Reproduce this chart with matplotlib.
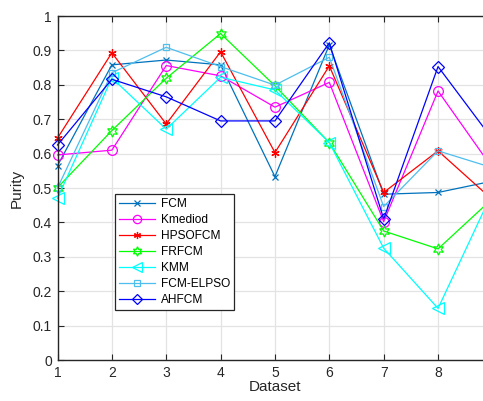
import matplotlib
matplotlib.use("Agg")
import matplotlib.pyplot as plt
import numpy as np

plt.rcParams['font.family'] = ['Liberation Sans', 'DejaVu Sans']

datasets = [1, 2, 3, 4, 5, 6, 7, 8, 9]
fcm      = [0.565, 0.858, 0.872, 0.858, 0.533, 0.916, 0.482, 0.487, 0.520]
kmediod  = [0.596, 0.610, 0.856, 0.826, 0.735, 0.807, 0.402, 0.782, 0.558]
hpsofcm  = [0.645, 0.893, 0.686, 0.896, 0.603, 0.855, 0.487, 0.608, 0.466]
frfcm    = [0.501, 0.667, 0.819, 0.949, 0.797, 0.632, 0.375, 0.323, 0.469]
kmm      = [0.470, 0.820, 0.671, 0.822, 0.785, 0.632, 0.325, 0.150, 0.487]
fcm_elpso = [0.500, 0.835, 0.909, 0.853, 0.799, 0.880, 0.446, 0.608, 0.559]
ahfcm    = [0.625, 0.816, 0.765, 0.695, 0.695, 0.922, 0.410, 0.853, 0.642]
x_tick_labels = ["1", "2", "3", "4", "5", "6", "7", "8", ""]
y_tick_labels = ["0", "0.1", "0.2", "0.3", "0.4", "0.5", "0.6", "0.7", "0.8", "0.9", "1"]

series = [
    ("FCM", fcm, "#0072BD", "x", 5),
    ("Kmediod", kmediod, "#FF00FF", "o", 7),
    ("HPSOFCM", hpsofcm, "#FF0000", (6, 2, 0), 6),
    ("FRFCM", frfcm, "#00FF00", (6, 1, 0), 8),
    ("KMM", kmm, "#00FFFF", "<", 8),
    ("FCM-ELPSO", fcm_elpso, "#4DBEEE", "s", 5),
    ("AHFCM", ahfcm, "#0000FF", "D", 6),
]

W, H = 483, 401
fig = plt.figure(figsize=(W / 100, H / 100), dpi=100)
left_px, right_px, top_px, bottom_px = 57.5, 492.4, 16, 360
ax = fig.add_axes([left_px / W, 1 - bottom_px / H,
                   (right_px - left_px) / W, (bottom_px - top_px) / H])

for name, vals, color, mk, ms in series:
    ax.plot(datasets, vals, color=color, lw=0.9, marker=mk, ms=ms,
            mfc='none', mec=color, mew=0.9, label=name, clip_on=False)

ax.set_xlim(1, 9)
ax.set_ylim(0, 1)
ax.set_xticks(datasets)
ax.set_xticklabels(x_tick_labels)
ax.set_yticks(np.arange(0, 1.01, 0.1))
ax.set_yticklabels(y_tick_labels)
ax.grid(True, color="#e3e3e3", lw=0.9)
ax.set_axisbelow(True)
ax.tick_params(direction='in', length=4, width=0.8, colors="#262626",
               labelsize=10, top=True, right=True, pad=4)
for sp in ax.spines.values():
    sp.set_color("#262626")
    sp.set_linewidth(1.0)
ax.set_xlabel("Dataset", fontsize=11, color="#262626", labelpad=0)
ax.set_ylabel("Purity", fontsize=11, color="#262626", labelpad=6)

leg = ax.legend(loc='upper left', bbox_to_anchor=(115 / W, 1 - 194 / H),
                bbox_transform=fig.transFigure, borderaxespad=0,
                fontsize=8.6, handlelength=3.0, labelspacing=0.33,
                handletextpad=0.5, borderpad=0.35, fancybox=False,
                framealpha=1, edgecolor="#262626", markerscale=0.85)
leg.get_frame().set_linewidth(0.9)

fig.savefig("out.png", dpi=100)
